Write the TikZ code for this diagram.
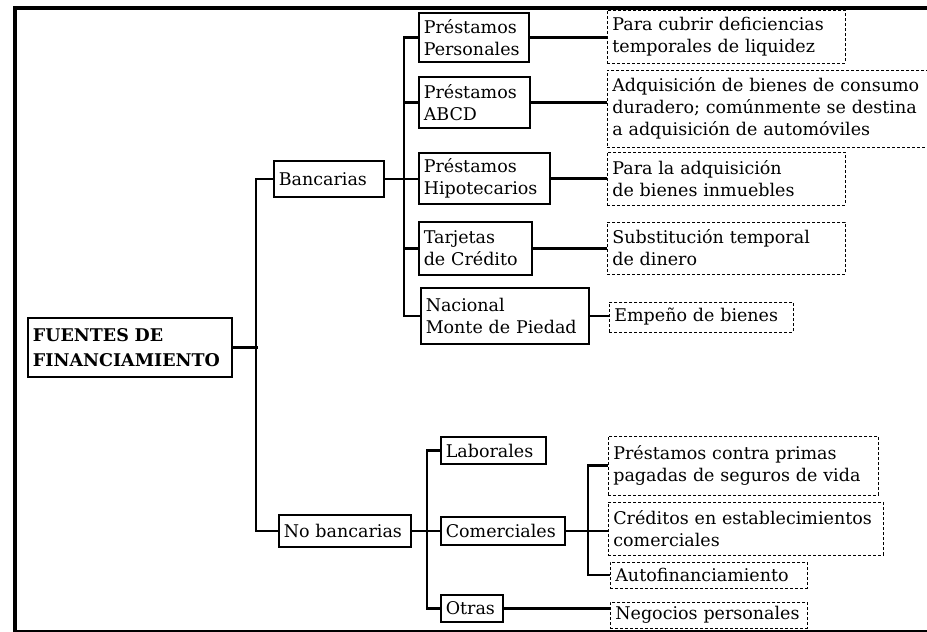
\documentclass[tikz,border=0pt]{standalone}
\usepackage{fontspec}
\setmainfont{DejaVu Serif}
\usepackage{tikz}

\begin{document}
\begin{tikzpicture}[
        x=1pt, y=-1pt,
        every node/.style={font=\fontsize{17.5}{22}\selectfont},
        rootbox/.style={draw,line width=1.8pt,align=left,inner xsep=5pt,anchor=west,font=\fontsize{17.5}{25}\selectfont\bfseries},
        catbox/.style={draw,line width=1.5pt,align=left,inner xsep=5pt,inner ysep=0pt,anchor=west},
        detbox/.style={draw,densely dashed,line width=0.7pt,align=left,inner xsep=5pt,inner ysep=0pt,anchor=west},
        link/.style={line width=2.8pt},
        frame/.style={line width=3.5pt}
    ]

    \useasboundingbox (0,0) rectangle (927,632);

    \draw[frame] (927,8) -- (15,8) -- (15,632);
    \draw[line width=2pt] (15,631) -- (927,631);

    \node[rootbox,text width=194,minimum height=59] (fuentes) at (27,347.5) {FUENTES DE\\FINANCIAMIENTO};

    \node[catbox,text width=100,minimum height=36] (banc) at (273,179) {Bancarias};
    \node[catbox,text width=122,minimum height=32] (nobanc) at (278,531) {No bancarias};

    \node[catbox,text width=100,minimum height=49] (pp) at (418,37.5) {Préstamos\\Personales};
    \node[catbox,text width=101,minimum height=51] (abcd) at (418,102.5) {Préstamos\\ABCD};
    \node[catbox,text width=121,minimum height=51] (hipo) at (418,178.5) {Préstamos\\Hipotecarios};
    \node[catbox,text width=103,minimum height=53] (tarj) at (418,248.5) {Tarjetas\\de Crédito};
    \node[catbox,text width=158,minimum height=56] (nmp) at (420,316) {Nacional\\Monte de Piedad};

    \node[catbox,text width=95,minimum height=27] (lab) at (440,450.5) {Laborales};
    \node[catbox,text width=114,minimum height=28] (com) at (440,531) {Comerciales};
    \node[catbox,text width=52,minimum height=27] (otras) at (440,608.5) {Otras};

    \node[detbox,text width=228,minimum height=53] (liq) at (607,36.5) {Para cubrir deficiencias\\temporales de liquidez};
    \node[detbox,text width=340,minimum height=77] (adq) at (607,108.5) {Adquisición de bienes de consumo\\duradero; comúnmente se destina\\a adquisición de automóviles};
    \node[detbox,text width=228,minimum height=53] (inm) at (607,178.5) {Para la adquisición\\de bienes inmuebles};
    \node[detbox,text width=228,minimum height=52] (din) at (607,248) {Substitución temporal\\de dinero};
    \node[detbox,text width=174,minimum height=30] (emp) at (609,317) {Empeño de bienes};

    \node[detbox,text width=260,minimum height=59] (seg) at (608,465.5) {Préstamos contra primas\\pagadas de seguros de vida};
    \node[detbox,text width=265,minimum height=53] (est) at (608,528.5) {Créditos en establecimientos\\comerciales};
    \node[detbox,text width=187,minimum height=26] (auto) at (610,575) {Autofinanciamiento};
    \node[detbox,text width=187,minimum height=26] (neg) at (610,615) {Negocios personales};

    \draw[link] (fuentes.east) -- ++(25,0);
    \draw[link] (banc.west) -- ++(-17,0) |- (nobanc.west);

    \draw[link] (banc.east) -- (banc.east -| hipo.west);
    \draw[link] (pp.west) -- ++(-14,0) |- (nmp.west);
    \draw[link] (abcd.west) -- ++(-14,0);
    \draw[link] (tarj.west) -- ++(-14,0);

    \draw[link] (pp.east) -- (pp.east -| liq.west);
    \draw[link] (abcd.east) -- (abcd.east -| adq.west);
    \draw[link] (hipo.east) -- (hipo.east -| inm.west);
    \draw[link] (tarj.east) -- (tarj.east -| din.west);
    \draw[link] (nmp.east) -- (nmp.east -| emp.west);

    \draw[link] (nobanc.east) -- (nobanc.east -| com.west);
    \draw[link] (lab.west) -- ++(-13,0) |- (otras.west);

    \draw[link] (com.east) -- (com.east -| est.west);
    \draw[link] (seg.west) -- ++(-20,0) |- (auto.west);
    \draw[link] (otras.east) -- (otras.east -| neg.west);

\end{tikzpicture}
\end{document}
